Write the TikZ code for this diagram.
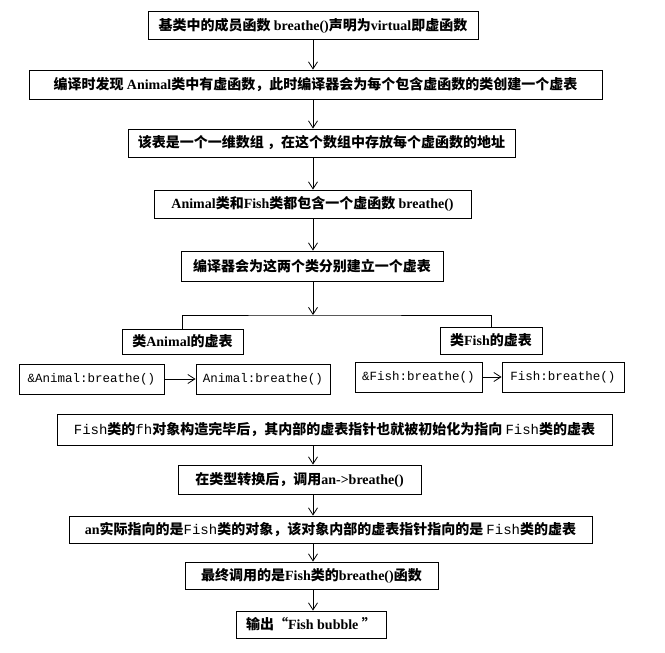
\documentclass[tikz,border=0pt]{standalone}
\usepackage{fontspec}
\usepackage{tikz}
\usetikzlibrary{arrows.meta,positioning}
\newfontfamily\zhfont{Noto Sans CJK SC}
\newfontfamily\latfont{Liberation Serif}
\newfontfamily\codefont{Liberation Mono}
\newcommand{\enw}[1]{{\latfont\bfseries #1}}
\newcommand{\code}[1]{{\codefont\mdseries #1}}
\tikzset{
  box/.style={draw, line width=0.9pt, minimum height=28pt, inner sep=3pt, align=center, font=\zhfont\bfseries\fontsize{14}{16}\selectfont},
  codebox/.style={draw, line width=0.9pt, minimum height=30pt, inner sep=3pt, font=\codefont\fontsize{12.5}{14}\selectfont},
  arr/.style={-{Straight Barb[length=7pt,width=9pt]}, line width=0.8pt},
  link/.style={line width=0.8pt},
}

\begin{document}
\begin{tikzpicture}[x=1pt, y=-1pt]
  \useasboundingbox (0,0) rectangle (665,653);
  \coordinate (spine) at (313,0);
  % main chain
  \node[box, minimum width=330pt] (decl) at (313,25.5) {基类中的成员函数 \enw{breathe()}声明为\enw{virtual}即虚函数};
  \node[box, minimum width=573pt, minimum height=29pt] (find) at (315.5,84.5) {编译时发现 \enw{Animal}类中有虚函数，此时编译器会为每个包含虚函数的类创建一个虚表};
  \node[box, minimum width=387pt] (array) at (321.5,143) {该表是一个一维数组 ，在这个数组中存放每个虚函数的地址};
  \node[box, minimum width=317pt] (both) at (312.5,204) {\enw{Animal}类和\enw{Fish}类都包含一个虚函数 \enw{breathe()}};
  \node[box, minimum width=262pt, minimum height=30pt] (build) at (312,266) {编译器会为这两个类分别建立一个虚表};
  \coordinate (fork) at (313,315);
  % the two tables
  \node[box, minimum width=121pt, minimum height=25pt] (tblA) at (182.5,341.5) {类\enw{Animal}的虚表};
  \node[box, minimum width=102pt, minimum height=27pt] (tblF) at (491,340.5) {类\enw{Fish}的虚表};
  \node[codebox, minimum width=145pt] (ptrA) at (91.5,379) {\&Animal:breathe()};
  \node[codebox, minimum width=134pt] (fnA) at (263,379) {Animal:breathe()};
  \node[codebox, minimum width=127pt] (ptrF) at (418.5,377) {\&Fish:breathe()};
  \node[codebox, minimum width=122pt] (fnF) at (563,377) {Fish:breathe()};
  % after construction
  \node[box, minimum width=555pt, minimum height=31pt] (init) at (334.5,429.5) {\code{Fish}类的\code{fh}对象构造完毕后，其内部的虚表指针也就被初始化为指向 \code{Fish}类的虚表};
  \node[box, minimum width=243pt, minimum height=29pt] (cast) at (299.5,479.5) {在类型转换后，调用\enw{an->breathe()}};
  \node[box, minimum width=523pt, minimum height=27pt] (real) at (330.5,529.5) {\enw{an}实际指向的是\code{Fish}类的对象，该对象内部的虚表指针指向的是 \code{Fish}类的虚表};
  \node[box, minimum width=253pt, minimum height=27pt] (call) at (311.5,575.5) {最终调用的是\enw{Fish}类的\enw{breathe()}函数};
  \node[box, minimum width=150pt, minimum height=27pt] (out) at (311,624.5) {输出“\enw{Fish bubble }”};
  % connectors
  \draw[arr] (decl.south -| spine) -- (find.north -| spine);
  \draw[arr] (find.south -| spine) -- (array.north -| spine);
  \draw[arr] (array.south -| spine) -- (both.north -| spine);
  \draw[arr] (both.south -| spine) -- (build.north -| spine);
  \draw[arr] (build.south -| spine) -- (fork);
  \draw[link] (tblA.north) |- (fork) -| (tblF.north);
  \draw[arr] (ptrA) -- (fnA);
  \draw[arr] (ptrF.east) -- (fnF.west |- ptrF.east);
  \draw[arr] (init.south -| spine) -- (cast.north -| spine);
  \draw[arr] (cast.south -| spine) -- (real.north -| spine);
  \draw[arr] (real.south -| spine) -- (call.north -| spine);
  \draw[arr] (call.south -| spine) -- (out.north -| spine);
\end{tikzpicture}
\end{document}
